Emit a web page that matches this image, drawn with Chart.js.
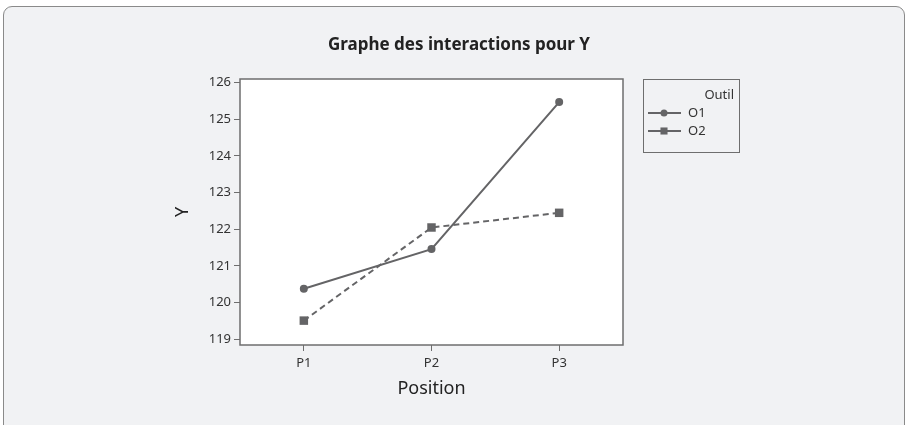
<!DOCTYPE html>
<html>
<head>
<meta charset="utf-8">
<script src="https://cdn.jsdelivr.net/npm/chart.js@4.4.0/dist/chart.umd.min.js"></script>
<style>
  html, body { margin: 0; padding: 0; background: #ffffff; }
  #cadre {
    position: absolute; left: 3px; top: 6px; width: 900px; height: 440px;
    background: #f1f2f4; border: 1px solid #8a8a8a; border-radius: 9px;
  }
  #zone { position: absolute; left: 0; top: 0; width: 906px; height: 425px; }
</style>
</head>
<body>
<div id="cadre"></div>
<div id="zone"><canvas id="myChart" width="906" height="425"></canvas></div>
<script>
var positions = ['P1', 'P2', 'P3'];
var valeursO1 = [120.38, 121.46, 125.47];
var valeursO2 = [119.51, 122.05, 122.45];
var ticksY = [119, 120, 121, 122, 123, 124, 125, 126];
var titre = 'Graphe des interactions pour Y';
var titreLegende = 'Outil';
var gris = '#646466';

// cadre du graphe + titre + legende
var decor = {
    id: 'decor',
    beforeDraw: function(chart) {
        var a = chart.chartArea, ctx = chart.ctx;
        ctx.save();
        ctx.fillStyle = '#ffffff';
        ctx.fillRect(a.left, a.top, a.right - a.left, a.bottom - a.top);
        ctx.restore();
    },
    afterDraw: function(chart) {
        var a = chart.chartArea, ctx = chart.ctx;
        ctx.save();
        ctx.strokeStyle = '#6e6e6e';
        ctx.lineWidth = 1.5;
        ctx.strokeRect(a.left, a.top, a.right - a.left, a.bottom - a.top);

        ctx.fillStyle = '#222';
        ctx.font = 'bold 17px "Noto Sans"';
        ctx.textAlign = 'center';
        ctx.textBaseline = 'middle';
        ctx.fillText(titre, 459, 45);

        // legende
        ctx.strokeStyle = '#6e6e6e';
        ctx.lineWidth = 1;
        ctx.strokeRect(643.5, 79.5, 96, 73);
        ctx.fillStyle = '#333';
        ctx.font = '13px "Noto Sans"';
        ctx.textAlign = 'right';
        ctx.fillText(titreLegende, 734, 95);
        ctx.textAlign = 'left';
        var ds = chart.data.datasets;
        for (var i = 0; i < ds.length; i++) {
            var y = 113 + i * 18;
            ctx.strokeStyle = gris;
            ctx.lineWidth = 2;
            ctx.setLineDash([]);
            ctx.beginPath();
            ctx.moveTo(648, y);
            ctx.lineTo(681, y);
            ctx.stroke();
            ctx.fillStyle = gris;
            ctx.lineWidth = 0;
            Chart.helpers.drawPoint(ctx, {
                pointStyle: ds[i].pointStyle,
                radius: ds[i].pointStyle == 'rect' ? 5 : 3.5,
                rotation: 0,
                borderWidth: 0
            }, 664, y);
            ctx.fillStyle = '#333';
            ctx.fillText(ds[i].label, 688, y);
        }
        ctx.restore();
    }
};

var ctx = document.getElementById('myChart');
var myChart = new Chart(ctx, {
    type: 'line',
    data: {
        labels: positions,
        datasets: [{
            label: 'O1',
            data: valeursO1,
            borderColor: gris,
            backgroundColor: gris,
            borderWidth: 2,
            pointStyle: 'circle',
            pointRadius: 4,
            pointBorderWidth: 0
        }, {
            label: 'O2',
            data: valeursO2,
            borderColor: gris,
            backgroundColor: gris,
            borderWidth: 2,
            borderDash: [6, 4],
            pointStyle: 'rect',
            pointRadius: 6,
            pointBorderWidth: 0
        }]
    },
    options: {
        responsive: false,
        animation: false,
        layout: { padding: { left: 172, top: 79, right: 283, bottom: 25 } },
        plugins: {
            legend: { display: false },
            tooltip: { enabled: false }
        },
        scales: {
            x: {
                offset: true,
                grid: { drawOnChartArea: false, drawTicks: true, tickLength: 6, color: '#6e6e6e', offset: false },
                border: { display: false },
                ticks: { color: '#333', font: { family: 'Noto Sans', size: 13 }, padding: 4 },
                title: { display: true, text: 'Position', color: '#222', font: { family: 'Noto Sans', size: 18 }, padding: 0 },
                afterFit: function(s) { s.height = 55; }
            },
            y: {
                min: 118.845,
                max: 126.1,
                grid: { drawOnChartArea: false, drawTicks: true, tickLength: 6, color: '#6e6e6e' },
                border: { display: false },
                ticks: { color: '#333', font: { family: 'Noto Sans', size: 13 }, padding: 3 },
                afterBuildTicks: function(s) { s.ticks = ticksY.map(function(v) { return { value: v }; }); },
                title: { display: true, text: 'Y', color: '#222', font: { family: 'Noto Sans', size: 18 }, padding: 0 },
                afterFit: function(s) { s.width = 68; }
            }
        }
    },
    plugins: [decor]
});
</script>
</body>
</html>
